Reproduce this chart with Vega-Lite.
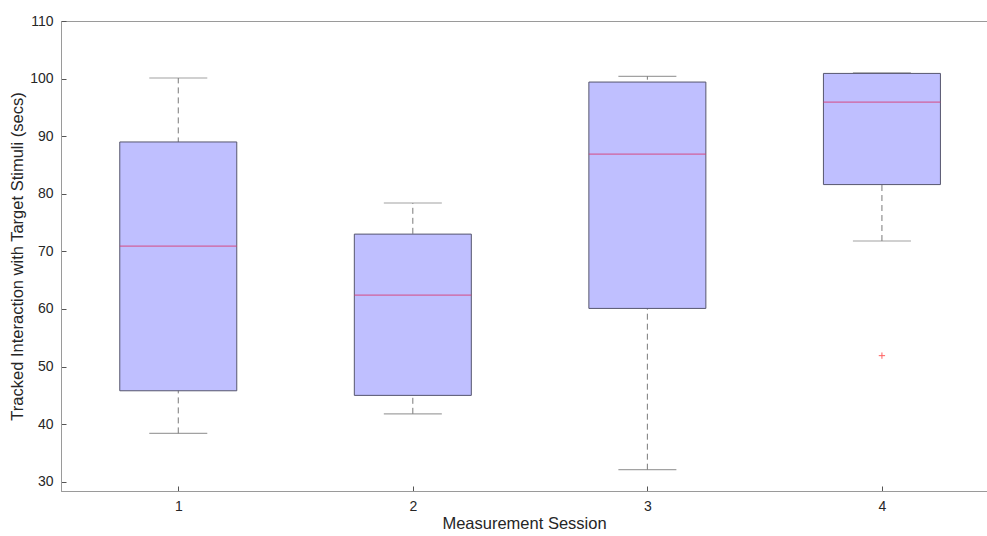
{
  "$schema": "https://vega.github.io/schema/vega-lite/v6.json",
  "autosize": {"type": "none"},
  "width": 926,
  "height": 470,
  "padding": {"left": 61, "top": 21, "right": 0, "bottom": 45},
  "background": "white",
  "config": {
    "view": {"stroke": "#9a9a9a", "strokeWidth": 1},
    "font": "Liberation Sans",
    "axis": {
      "grid": false,
      "domainColor": "#9a9a9a",
      "tickColor": "#555555",
      "labelColor": "#262626",
      "titleColor": "#262626",
      "labelFont": "Liberation Sans",
      "titleFont": "Liberation Sans",
      "labelFontSize": 14,
      "titleFontSize": 16.5,
      "titleFontWeight": "normal"
    }
  },
  "datasets": {
    "stats": [
      {"session": 1, "lo": 38.4, "q1": 45.8, "median": 70.9, "q3": 89.0, "hi": 100.1},
      {"session": 2, "lo": 41.8, "q1": 45.0, "median": 62.4, "q3": 73.0, "hi": 78.4},
      {"session": 3, "lo": 32.1, "q1": 60.1, "median": 86.9, "q3": 99.4, "hi": 100.4},
      {"session": 4, "lo": 71.8, "q1": 81.6, "median": 95.9, "q3": 100.9, "hi": 101.0}
    ],
    "outliers": [
      {"session": 4, "value": 51.9}
    ]
  },
  "encoding": {
    "x": {
      "field": "session", "type": "quantitative",
      "scale": {"domain": [0.5, 4.448], "nice": false, "zero": false, "padding": 0},
      "axis": {"values": [1, 2, 3, 4], "tickSize": -5, "labelPadding": 13, "title": "Measurement Session", "titlePadding": 2, "format": "d"}
    }
  },
  "layer": [
    {
      "data": {"name": "stats"},
      "mark": {"type": "rule", "strokeDash": [6, 4], "color": "#7a7a7a", "strokeWidth": 1},
      "encoding": {
        "y": {
          "field": "lo", "type": "quantitative",
          "scale": {"domain": [28.4, 110], "nice": false, "zero": false, "padding": 0},
          "axis": {"values": [30, 40, 50, 60, 70, 80, 90, 100, 110], "tickSize": -5, "labelPadding": 13, "title": "Tracked Interaction with Target Stimuli (secs)", "titlePadding": 4}
        },
        "y2": {"field": "hi"}
      }
    },
    {
      "data": {"name": "stats"},
      "mark": {"type": "tick", "orient": "horizontal", "size": 58, "thickness": 1.2, "color": "#7a7a7a"},
      "encoding": {"y": {"field": "lo", "type": "quantitative"}}
    },
    {
      "data": {"name": "stats"},
      "mark": {"type": "tick", "orient": "horizontal", "size": 58, "thickness": 1.2, "color": "#7a7a7a"},
      "encoding": {"y": {"field": "hi", "type": "quantitative"}}
    },
    {
      "data": {"name": "stats"},
      "mark": {"type": "bar", "width": 117, "fill": "#bfbfff", "stroke": "#56566e", "strokeWidth": 1},
      "encoding": {
        "y": {"field": "q1", "type": "quantitative"},
        "y2": {"field": "q3"}
      }
    },
    {
      "data": {"name": "stats"},
      "mark": {"type": "tick", "orient": "horizontal", "size": 117, "thickness": 1.2, "color": "#d93a72"},
      "encoding": {"y": {"field": "median", "type": "quantitative"}}
    },
    {
      "data": {"name": "outliers"},
      "mark": {"type": "point", "shape": "M-1,0L1,0M0,-1L0,1", "size": 40, "filled": false, "stroke": "#ff2020", "strokeWidth": 1},
      "encoding": {"y": {"field": "value", "type": "quantitative"}}
    }
  ]
}
